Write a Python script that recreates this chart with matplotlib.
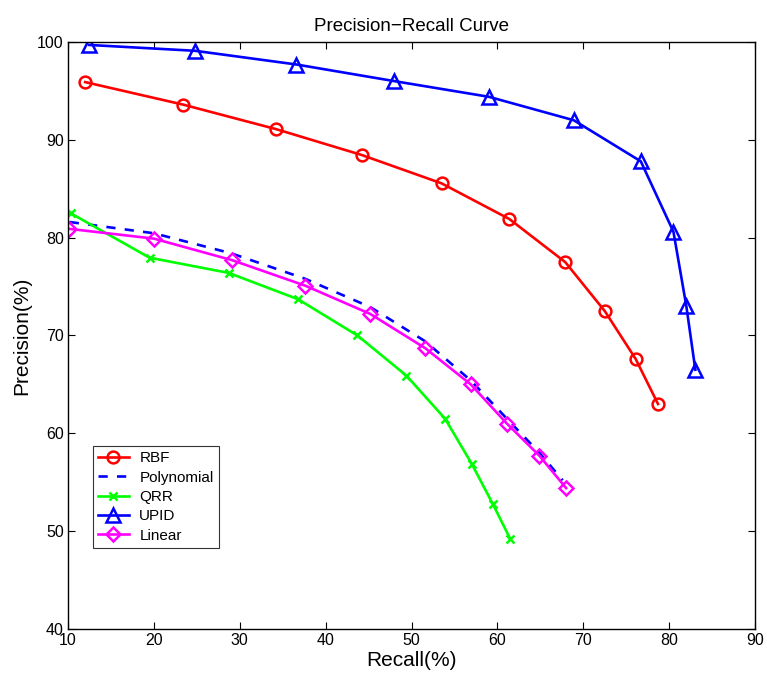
import matplotlib
matplotlib.use("Agg")
import matplotlib.pyplot as plt

plt.rcParams['font.family'] = ['Liberation Sans', 'DejaVu Sans']

# Precision/recall operating points for each classifier
rbf_recall = [12.0, 23.4, 34.2, 44.2, 53.5, 61.4, 67.9, 72.5, 76.1, 78.7]
rbf_precision = [95.9, 93.6, 91.1, 88.45, 85.55, 81.9, 77.5, 72.5, 67.6, 63.0]

poly_recall = [10.2, 20.0, 29.0, 37.6, 45.2, 51.6, 56.9, 61.1, 64.9, 67.6]
poly_precision = [81.6, 80.45, 78.4, 75.8, 72.9, 69.4, 65.4, 61.5, 58.0, 55.2]

qrr_recall = [10.3, 19.5, 28.7, 36.8, 43.7, 49.4, 53.9, 57.0, 59.45, 61.5]
qrr_precision = [82.5, 77.95, 76.4, 73.7, 70.0, 65.9, 61.5, 56.9, 52.8, 49.2]

upid_recall = [12.45, 24.8, 36.6, 48.0, 59.0, 68.9, 76.7, 80.5, 82.0, 83.05]
upid_precision = [99.7, 99.1, 97.7, 96.0, 94.4, 92.0, 87.8, 80.6, 73.0, 66.5]

lin_recall = [10.15, 20.0, 29.1, 37.6, 45.2, 51.6, 56.9, 61.1, 64.9, 68.0]
lin_precision = [80.9, 79.9, 77.7, 75.1, 72.2, 68.7, 65.0, 61.0, 57.7, 54.4]

x_ticks = [10, 20, 30, 40, 50, 60, 70, 80, 90]
y_ticks = [40, 50, 60, 70, 80, 90, 100]

fig = plt.figure(figsize=(7.67, 6.83), dpi=100)
ax = fig.add_axes([0.0887, 0.0791, 0.8957, 0.8594])

lw = 1.9
ax.plot(rbf_recall, rbf_precision, color='#ff0000', lw=lw, marker='o', ms=8.5,
        mfc='none', mew=1.8, label='RBF')
ax.plot(poly_recall, poly_precision, color='#0000ff', lw=lw, ls=(0, (3.5, 3.5)),
        label='Polynomial')
ax.plot(qrr_recall, qrr_precision, color='#00ff00', lw=lw, marker='x', ms=6,
        mew=1.8, label='QRR')
ax.plot(upid_recall, upid_precision, color='#0000ff', lw=lw, marker='^', ms=9.5,
        mfc='none', mew=1.8, label='UPID')
ax.plot(lin_recall, lin_precision, color='#ff00ff', lw=lw, marker='D', ms=7,
        mfc='none', mew=1.8, label='Linear')

ax.set_xlim(10, 90)
ax.set_ylim(40, 100)
ax.set_xticks(x_ticks)
ax.set_yticks(y_ticks)
ax.tick_params(direction='in', top=True, right=True, length=5, width=0.8,
               labelsize=11.5, pad=3)
for s in ax.spines.values():
    s.set_linewidth(1.0)

ax.set_xlabel('Recall(%)', fontsize=15, labelpad=2)
ax.set_ylabel('Precision(%)', fontsize=15, labelpad=4)
ax.set_title('Precision\u2212Recall Curve', fontsize=13.5, pad=8)

leg = ax.legend(loc='upper left', bbox_to_anchor=(0.036, 0.312), fontsize=11,
                frameon=True, fancybox=False, edgecolor='black',
                handlelength=2.0, handletextpad=0.7, borderpad=0.35,
                labelspacing=0.35, borderaxespad=0)
leg.get_frame().set_linewidth(0.8)

fig.savefig('out.png', dpi=100, facecolor='white')
